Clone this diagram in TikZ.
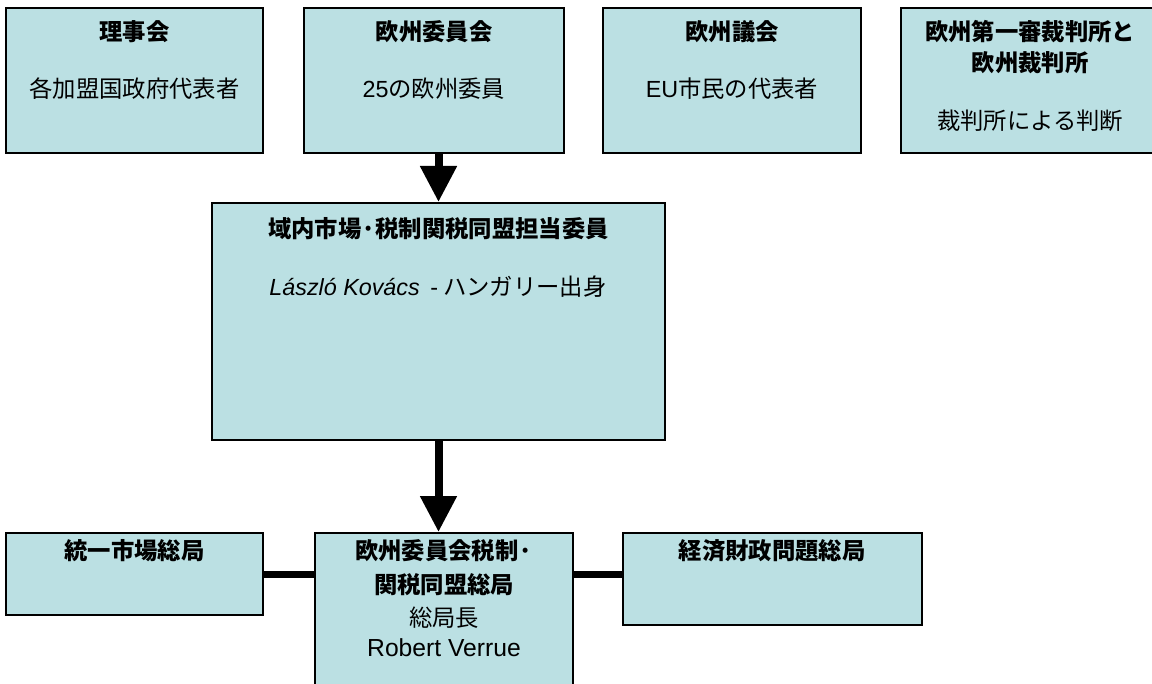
\documentclass[tikz,border=0pt]{standalone}
\usepackage{fontspec}
\setmainfont{Liberation Sans}
\newfontfamily\jp{Noto Sans CJK JP}
\newfontfamily\jpb{Noto Sans CJK JP Black}
\usetikzlibrary{arrows.meta,shadows}
\definecolor{boxfill}{RGB}{187,224,227}
\tikzset{
  box/.style={draw=black, line width=1.5pt, fill=boxfill, inner sep=0pt,
    drop shadow={shadow xshift=1pt, shadow yshift=-1pt, fill=black!30, opacity=1}},
  ttl/.style={font=\fontsize{17.5}{21}\selectfont\jpb, inner sep=0pt},
  txt/.style={font=\fontsize{17.5}{21}\selectfont\jp, inner sep=0pt},
  arr/.style={line width=6pt, -{Triangle[width=26.25pt,length=27pt]}},
  link/.style={line width=5.25pt},
}
\begin{document}
\begin{tikzpicture}[x=0.75pt,y=-0.75pt]
\useasboundingbox (0,0) rectangle (1152,684);
\clip (0,0) rectangle (1152,684);
% top row
\node[box, minimum width=192.75pt, minimum height=108.75pt] (b1) at (134.5,80.5) {};
\node[box, minimum width=195pt, minimum height=108.75pt] (b2) at (434,80.5) {};
\node[box, minimum width=193.5pt, minimum height=108.75pt] (b3) at (732,80.5) {};
\node[box, minimum width=198pt, minimum height=108.75pt] (b4) at (1033,80.5) {};
% middle
\node[box, minimum width=339.75pt, minimum height=177.75pt] (mid) at (438.5,321.5) {};
% bottom
\node[box, minimum width=192.75pt, minimum height=61.5pt] (bl) at (134.5,574) {};
\node[box, minimum width=193.5pt, minimum height=140.25pt] (bc) at (444,626.5) {};
\node[box, minimum width=224.25pt, minimum height=69pt] (br) at (772.5,579) {};
% texts
\node[ttl] (t1) at (134.5,32) {理事会};
\node[txt] (s1) at (134.5,89) {各加盟国政府代表者};
\node[ttl] (t2) at (434,32) {欧州委員会};
\node[txt] (s2) at (434,89) {{\rmfamily 25}の欧州委員};
\node[ttl] (t3) at (732,32) {欧州議会};
\node[txt] (s3) at (732,89) {{\rmfamily EU}市民の代表者};
\node[ttl] (t4a) at (1030,32) {欧州第一審裁判所と};
\node[ttl] (t4b) at (1030,63) {欧州裁判所};
\node[txt] (s4) at (1030,121) {裁判所による判断};
\node[ttl] (tm) at (438.5,229) {域内市場·税制関税同盟担当委員};
\node[txt] (sm) at (438,287) {{\rmfamily\itshape László Kovács}\ \ {\rmfamily -} ハンガリー出身};
\node[ttl] (tl) at (134.5,551) {統一市場総局};
\node[ttl] (tc1) at (444,551) {欧州委員会税制·};
\node[ttl] (tc2) at (444,585) {関税同盟総局};
\node[txt] (tc3) at (444,618) {総局長};
\node[txt] (tc4) at (444,648) {\fontsize{18.5}{21}\selectfont\rmfamily Robert Verrue};
\node[ttl] (tr) at (772,551) {経済財政問題総局};
% connectors
\draw[arr] (mid.north |- b2.south) -- (mid.north);
\draw[arr] (mid.south) -- (mid.south |- bc.north);
\draw[link] (bl.east) -- (bl.east -| bc.west);
\draw[link] (bc.east |- bl.east) -- (br.west |- bl.east);
\end{tikzpicture}
\end{document}
